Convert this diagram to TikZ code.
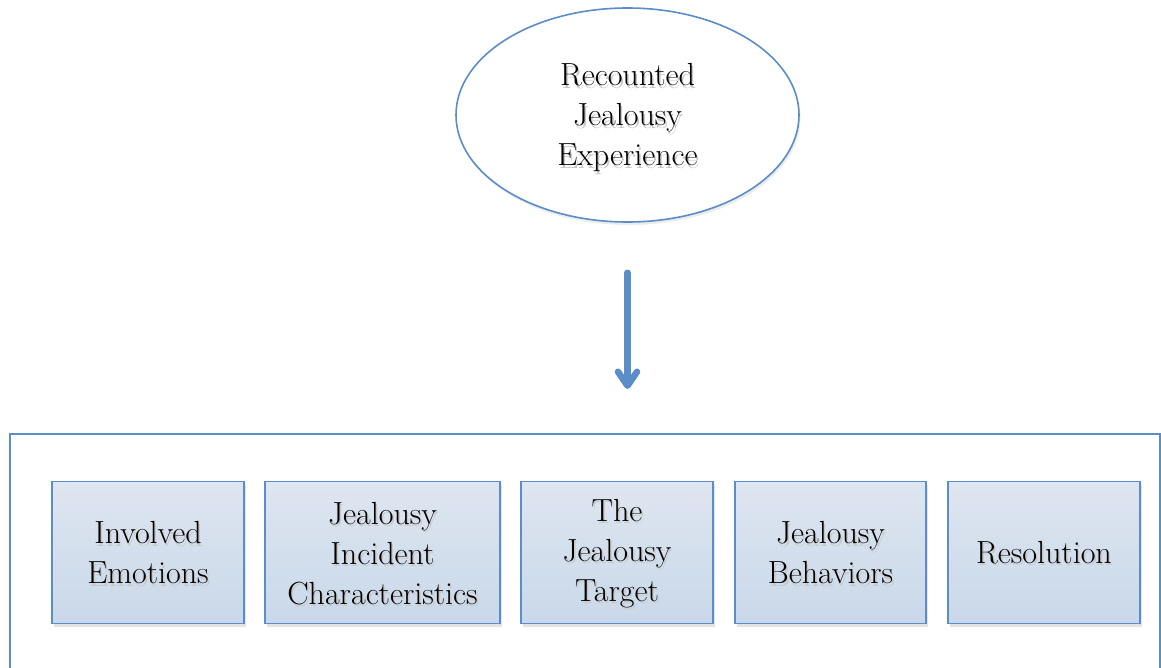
\documentclass[tikz,border=0pt]{standalone}
\usetikzlibrary{arrows.meta,shadows,shapes.geometric}
\definecolor{edgeblue}{HTML}{5B8DC8}
\definecolor{topfill}{HTML}{DEE6F0}
\definecolor{botfill}{HTML}{C9D8E9}
\newcommand\shd[1]{\leavevmode\rlap{\kern1.5pt\raisebox{-2.2pt}{\color{black!22}#1}}#1}
\begin{document}
\begin{tikzpicture}[x=1pt,y=-1pt,
  catbox/.style={draw=edgeblue, line width=1.6pt, top color=topfill, bottom color=botfill,
    minimum height=142pt, inner sep=0pt,
    drop shadow={shadow xshift=2pt, shadow yshift=-3pt, opacity=0.22}},
  ovalnode/.style={ellipse, draw=edgeblue, line width=1.6pt, fill=white, inner sep=0pt,
    minimum width=343pt, minimum height=214pt,
    drop shadow={shadow xshift=1.5pt, shadow yshift=-3pt, opacity=0.15}},
  lbl/.style={align=center, inner sep=0pt, font=\fontsize{32}{40}\selectfont},
  framebox/.style={draw=edgeblue, line width=1.6pt, inner sep=0pt, anchor=north west},
  bigarrow/.style={draw=edgeblue, line width=6.5pt, line cap=round,
    -{Straight Barb[length=14pt,width=19pt,line cap=round,line join=round]}}
]
\useasboundingbox (0,0) rectangle (1161,668);
\fill[white] (0,0) rectangle (1161,668);
\node[ovalnode] (exp) at (627.5,115) {};
\node[lbl] (expt) at ([shift={(0,4)}]exp.center) {\shd{Recounted}\\\shd{Jealousy}\\\shd{Experience}};
\node[framebox, minimum width=1150pt, minimum height=280pt] (frame) at (9,433) {};
\node[catbox, minimum width=192pt] (emo) at (148,552.5) {};
\node[catbox, minimum width=235pt] (inc) at (382.5,552.5) {};
\node[catbox, minimum width=192pt] (tgt) at (617,552.5) {};
\node[catbox, minimum width=191pt] (beh) at (830.5,552.5) {};
\node[catbox, minimum width=192pt] (res) at (1044,552.5) {};
\node[lbl] (emot) at ([shift={(0,1.5)}]emo.center) {\shd{Involved}\\\shd{Emotions}};
\node[lbl] (inct) at ([shift={(0,2.5)}]inc.center) {\shd{Jealousy}\\\shd{Incident}\\\shd{Characteristics}};
\node[lbl] (tgtt) at ([shift={(0,2.5)}]tgt.center) {\shd{The}\\\shd{Jealousy}\\\shd{Target}};
\node[lbl] (beht) at ([shift={(0,1.5)}]beh.center) {\shd{Jealousy}\\\shd{Behaviors}};
\node[lbl] (rest) at ([shift={(0,1)}]res.center) {\shd{Resolution}};
\draw[bigarrow, shorten <=50pt, shorten >=44pt] (exp.south) -- (exp.south |- frame.north);
\end{tikzpicture}
\end{document}
